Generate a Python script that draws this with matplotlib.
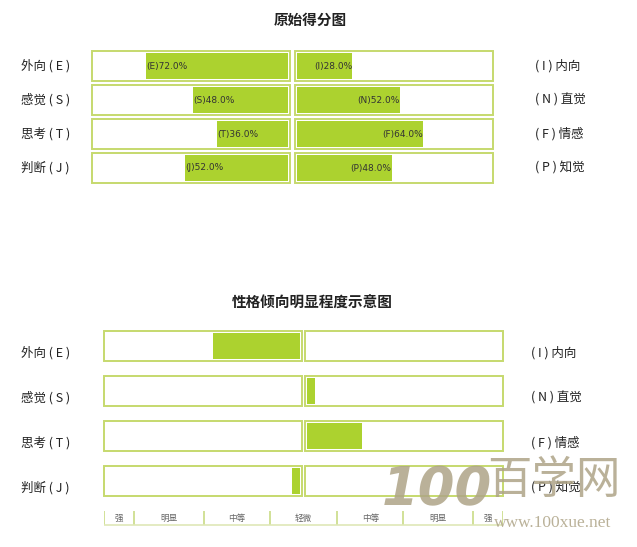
import matplotlib
matplotlib.use("Agg")
import matplotlib.pyplot as plt

plt.rcParams['font.family'] = ['Noto Sans CJK SC', 'DejaVu Sans']

# ---------------- data ----------------
title_top = "原始得分图"
title_bottom = "性格倾向明显程度示意图"
left_names = ["外向 ( E )", "感觉 ( S )", "思考 ( T )", "判断 ( J )"]
right_names = ["( I ) 内向", "( N ) 直觉", "( F ) 情感", "( P ) 知觉"]
left_letters = ["E", "S", "T", "J"]
right_letters = ["I", "N", "F", "P"]
left_scores = [72.0, 48.0, 36.0, 52.0]
right_scores = [28.0, 52.0, 64.0, 48.0]
left_clarity = [44, 0, 0, 4]
right_clarity = [0, 4, 28, 0]
scale_bounds = [-100, -85, -50, -17, 17, 50, 85, 100]
scale_labels = ["强", "明显", "中等", "轻微", "中等", "明显", "强"]

BAR = "#acd22f"
EDGE = "#c6d96e"
W, H = 637, 547

fig = plt.figure(figsize=(W / 100, H / 100), dpi=100)
fig.patch.set_facecolor("white")


def add_ax(x0, y0, x1, y1):
    ax = fig.add_axes([x0 / W, 1 - y1 / H, (x1 - x0) / W, (y1 - y0) / H])
    ax.set_axis_off()
    return ax


def fig_text(x, y, s, **kw):
    fig.text(x / W, 1 - y / H, s, **kw)


# ---------------- top chart ----------------
fig_text(310, 20, title_top, ha="center", va="center", fontsize=10.5, fontweight="bold", color="#222222")

rows = range(4)
axL = add_ax(92, 49, 290, 185)
axR = add_ax(295, 49, 493, 185)
for ax in (axL, axR):
    ax.set_ylim(3.5, -0.5)
axL.set_xlim(100, 0)
axR.set_xlim(0, 100)

axL.barh(list(rows), [100] * 4, height=0.88, color="white", edgecolor=EDGE, linewidth=1.4, clip_on=False)
axR.barh(list(rows), [100] * 4, height=0.88, color="white", edgecolor=EDGE, linewidth=1.4, clip_on=False)
axL.barh(list(rows), left_scores, height=0.74, left=0.8, color=BAR, linewidth=0)
axR.barh(list(rows), right_scores, height=0.74, left=0.8, color=BAR, linewidth=0)
for i in rows:
    axL.text(left_scores[i] + 0.8, i, f"({left_letters[i]}){left_scores[i]:.1f}%", ha="left", va="center",
             fontsize=6.5, color="#333333", family=["DejaVu Sans"])
    axR.text(right_scores[i] + 0.8, i, f"({right_letters[i]}){right_scores[i]:.1f}%", ha="right", va="center",
             fontsize=6.5, color="#333333", family=["DejaVu Sans"])
    y = 66 + 34 * i
    fig_text(21, y, left_names[i], ha="left", va="center", fontsize=9, color="#222222")
    fig_text(535, y, right_names[i], ha="left", va="center", fontsize=9, color="#222222")

# ---------------- bottom chart ----------------
fig_text(312, 303, title_bottom, ha="center", va="center", fontsize=10.5, fontweight="bold", color="#222222")

bL = add_ax(104, 323.5, 302, 503.5)
bR = add_ax(305, 323.5, 503, 503.5)
for ax in (bL, bR):
    ax.set_ylim(3.5, -0.5)
bL.set_xlim(100, 0)
bR.set_xlim(0, 100)
bL.barh(list(rows), [100] * 4, height=0.667, color="white", edgecolor=EDGE, linewidth=1.4, clip_on=False)
bR.barh(list(rows), [100] * 4, height=0.667, color="white", edgecolor=EDGE, linewidth=1.4, clip_on=False)
bL.barh(list(rows), left_clarity, height=0.56, left=1.0, color=BAR, linewidth=0)
bR.barh(list(rows), right_clarity, height=0.56, left=1.0, color=BAR, linewidth=0)
for i in rows:
    y = 353 + 45 * i
    fig_text(21, y, left_names[i], ha="left", va="center", fontsize=9, color="#222222")
    fig_text(531, y, right_names[i], ha="left", va="center", fontsize=9, color="#222222")

# scale
sc = add_ax(104, 508, 503, 528)
sc.set_xlim(-100, 100)
sc.set_ylim(1, 0)
sc.vlines(scale_bounds, 0.15, 0.85, color="#c9db85", linewidth=1.2)
sc.hlines(0.85, -100, 100, color="#dfe8b8", linewidth=1.2)
for k, lab in enumerate(scale_labels):
    xm = (scale_bounds[k] + scale_bounds[k + 1]) / 2
    sc.text(xm, 0.5, lab, ha="center", va="center", fontsize=6.2, color="#666666")

# ---------------- watermark ----------------
wm = "#aea487"
fig_text(437, 490, "100", ha="center", va="center", fontsize=38, color=wm, alpha=0.85,
         fontweight="bold", family=["DejaVu Sans"], style="italic")
fig_text(554, 480, "百学网", ha="center", va="center", fontsize=32, color=wm, alpha=0.85)
fig_text(553, 523, "www.100xue.net", ha="center", va="center", fontsize=12.5, color=wm, alpha=0.85,
         family=["Liberation Serif", "DejaVu Serif"])

fig.savefig("out.png", dpi=100, facecolor="white")
